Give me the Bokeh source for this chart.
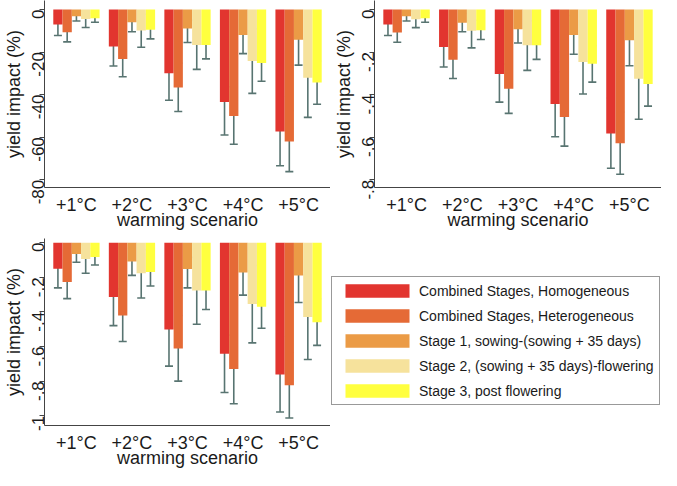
import math
from bokeh.plotting import figure
from bokeh.models import (ColumnDataSource, Whisker, TeeHead, FixedTicker, Range1d,
                          Legend, LegendItem)
from bokeh.layouts import row, column
from bokeh.embed import file_html
from bokeh.resources import INLINE

# ---------------- data ----------------
scenarios = ["+1°C", "+2°C", "+3°C", "+4°C", "+5°C"]
series = ["Combined Stages, Homogeneous", "Combined Stages, Heterogeneous",
          "Stage 1, sowing-(sowing + 35 days)", "Stage 2, (sowing + 35 days)-flowering",
          "Stage 3, post flowering"]
colors = ["#e2352f", "#e56a36", "#eb9b46", "#f6e29c", "#ffff3f"]

# Panel A (top-left), percent; one row per series, one value per scenario
a_mean = [[-7.0, -17.4, -29.9, -43.5, -57.3],
          [-10.7, -23.3, -36.6, -50.0, -62.0],
          [-3.1, -6.0, -8.9, -11.9, -14.2],
          [-4.4, -9.8, -16.7, -24.2, -32.1],
          [-4.1, -9.5, -16.7, -25.1, -34.3]]
a_upper = [[-2.1, -8.1, -17.0, -28.7, -40.9],
           [-6.0, -14.7, -25.2, -36.3, -47.6],
           [-0.9, -1.8, -2.3, -2.8, -2.3],
           [-0.6, -2.2, -5.1, -9.1, -13.9],
           [-1.6, -4.8, -10.0, -16.7, -24.2]]
a_lower = [[-12.2, -26.5, -42.6, -59.0, -73.4],
           [-15.2, -31.6, -47.9, -63.3, -76.2],
           [-5.4, -10.4, -15.5, -20.7, -26.1],
           [-8.4, -17.7, -28.1, -39.4, -50.7],
           [-6.0, -13.8, -23.2, -33.7, -44.5]]
a_ticks = [0, -20, -40, -60, -80]
a_tick_labels = ["0", "-20", "-40", "-60", "-80"]

# Panel B (top-right)
b_mean = [[-0.070, -0.176, -0.303, -0.444, -0.583],
          [-0.108, -0.236, -0.372, -0.505, -0.628],
          [-0.031, -0.062, -0.092, -0.119, -0.144],
          [-0.045, -0.100, -0.168, -0.246, -0.325],
          [-0.041, -0.097, -0.168, -0.255, -0.350]]
b_upper = [[-0.022, -0.082, -0.173, -0.292, -0.416],
           [-0.060, -0.148, -0.256, -0.371, -0.482],
           [-0.009, -0.018, -0.025, -0.028, -0.025],
           [-0.006, -0.022, -0.053, -0.092, -0.141],
           [-0.016, -0.050, -0.103, -0.170, -0.248]]
b_lower = [[-0.122, -0.270, -0.435, -0.598, -0.746],
           [-0.154, -0.324, -0.488, -0.642, -0.774],
           [-0.054, -0.104, -0.157, -0.210, -0.264],
           [-0.085, -0.180, -0.286, -0.397, -0.516],
           [-0.060, -0.141, -0.234, -0.341, -0.454]]
b_ticks = [0, -0.2, -0.4, -0.6, -0.8]
b_tick_labels = ["0", "-.2", "-.4", "-.6", "-.8"]

# Panel C (bottom-left)
c_mean = [[-0.150, -0.314, -0.501, -0.641, -0.762],
          [-0.227, -0.420, -0.612, -0.730, -0.824],
          [-0.065, -0.109, -0.152, -0.172, -0.190],
          [-0.094, -0.177, -0.277, -0.355, -0.429],
          [-0.083, -0.170, -0.277, -0.370, -0.460]]
c_upper = [[-0.046, -0.146, -0.290, -0.421, -0.543],
           [-0.128, -0.266, -0.421, -0.534, -0.634],
           [-0.017, -0.033, -0.044, -0.044, -0.035],
           [-0.011, -0.041, -0.085, -0.131, -0.185],
           [-0.035, -0.091, -0.166, -0.246, -0.323]]
c_lower = [[-0.261, -0.479, -0.713, -0.865, -0.978],
           [-0.323, -0.571, -0.800, -0.930, -1.013],
           [-0.113, -0.189, -0.261, -0.303, -0.346],
           [-0.177, -0.320, -0.471, -0.579, -0.675],
           [-0.129, -0.250, -0.386, -0.494, -0.593]]
c_ticks = [0, -0.2, -0.4, -0.6, -0.8, -1.0]
c_tick_labels = ["0", "-.2", "-.4", "-.6", "-.8", "-1"]

FONT = "Liberation Sans"
TXT = "#1a1a1a"
ERR = "#587471"
BAR_W = 1.0 / 6.0


def make_panel(mean, upper, lower, yrange, ticks, tick_labels, width, height,
               left, top, bottom):
    p = figure(width=width, height=height, x_range=Range1d(0.425, 5.575),
               y_range=Range1d(*yrange), output_backend="svg", toolbar_location=None,
               min_border_left=left, min_border_right=0, min_border_top=top,
               min_border_bottom=bottom)
    groups = list(range(1, len(scenarios) + 1))
    wsrc = {"x": [], "upper": [], "lower": []}
    for k, name in enumerate(series):
        xs = [g + (k - 2) * BAR_W for g in groups]
        src = ColumnDataSource(dict(x=xs, bottom=mean[k]))
        p.vbar(x="x", width=BAR_W, top=0, bottom="bottom", source=src,
               fill_color=colors[k], line_color=None)
        wsrc["x"] += xs
        wsrc["upper"] += upper[k]
        wsrc["lower"] += lower[k]
    wsource = ColumnDataSource(wsrc)
    head = dict(size=8, line_color=ERR, line_width=1.6)
    w = Whisker(source=wsource, base="x", upper="upper", lower="lower",
                dimension="height", line_color=ERR, line_width=1.6,
                upper_head=TeeHead(**head), lower_head=TeeHead(**head))
    p.add_layout(w)

    p.xaxis.ticker = FixedTicker(ticks=groups)
    p.xaxis.major_label_overrides = {g: s for g, s in zip(groups, scenarios)}
    p.xaxis.major_tick_line_color = None
    p.xaxis.major_tick_out = 0
    p.xaxis.major_tick_in = 0
    p.xaxis.minor_tick_line_color = None
    p.xaxis.major_label_standoff = 7
    p.xaxis.axis_label = "warming scenario"
    p.xaxis.axis_label_standoff = -8

    p.yaxis.ticker = FixedTicker(ticks=ticks)
    p.yaxis.major_label_overrides = {t: s for t, s in zip(ticks, tick_labels)}
    p.yaxis.major_label_orientation = math.pi / 2
    p.yaxis.major_tick_out = 5
    p.yaxis.major_tick_in = 0
    p.yaxis.minor_tick_line_color = None
    p.yaxis.major_label_standoff = 1
    p.yaxis.axis_label = "yield impact (%)"
    p.yaxis.axis_label_standoff = 0
    p.yaxis.major_tick_line_color = "#444444"

    for ax in (p.xaxis, p.yaxis):
        ax.axis_line_color = "#444444"
        ax.major_label_text_font = FONT
        ax.major_label_text_color = TXT
        ax.axis_label_text_font = FONT
        ax.axis_label_text_color = TXT
        ax.axis_label_text_font_style = "normal"
        ax.axis_label_text_font_size = "18px"
    p.xaxis.major_label_text_font_size = "18px"
    p.yaxis.major_label_text_font_size = "17px"
    p.grid.visible = False
    p.outline_line_color = None
    p.background_fill_color = "white"
    return p


# row 1: frame 188 px tall + 44 px for the x axis; row 2: 6 px top + 188 + 44
p1 = make_panel(a_mean, a_upper, a_lower, (-83.65, 4.26), a_ticks, a_tick_labels,
                330, 232, 40, 0, 44)
p2 = make_panel(b_mean, b_upper, b_lower, (-0.8365, 0.0426), b_ticks, b_tick_labels,
                331, 232, 40, 0, 44)
p3 = make_panel(c_mean, c_upper, c_lower, (-1.056, 0.024), c_ticks, c_tick_labels,
                330, 238, 40, 6, 44)

# legend panel (its top/bottom borders align with p3's in the row)
p4 = figure(width=331, height=238, x_range=Range1d(0, 1), y_range=Range1d(0, 1),
            output_backend="svg", toolbar_location=None, x_axis_location=None,
            y_axis_location=None, min_border_left=0, min_border_right=0,
            min_border_top=6, min_border_bottom=44)
p4.grid.visible = False
p4.outline_line_color = None
items = []
for k, name in enumerate(series):
    # one dummy bar outside the visible range so the legend has a glyph to draw
    r = p4.vbar(x=[-10], width=0.1, top=[0], bottom=[-1], fill_color=colors[k],
                line_color=None)
    items.append(LegendItem(label=name, renderers=[r]))
legend = Legend(items=items, location=(1, 20), glyph_width=80, glyph_height=17,
                label_height=17, spacing=8, padding=5, margin=0, label_standoff=2,
                label_text_font=FONT, label_text_font_size="14px",
                label_text_color=TXT, border_line_color="#333333",
                border_line_width=1, background_fill_color="white",
                background_fill_alpha=1.0)
p4.add_layout(legend)

layout = column(row(p1, p2), row(p3, p4))
open("out.html", "w").write(file_html(layout, INLINE))
